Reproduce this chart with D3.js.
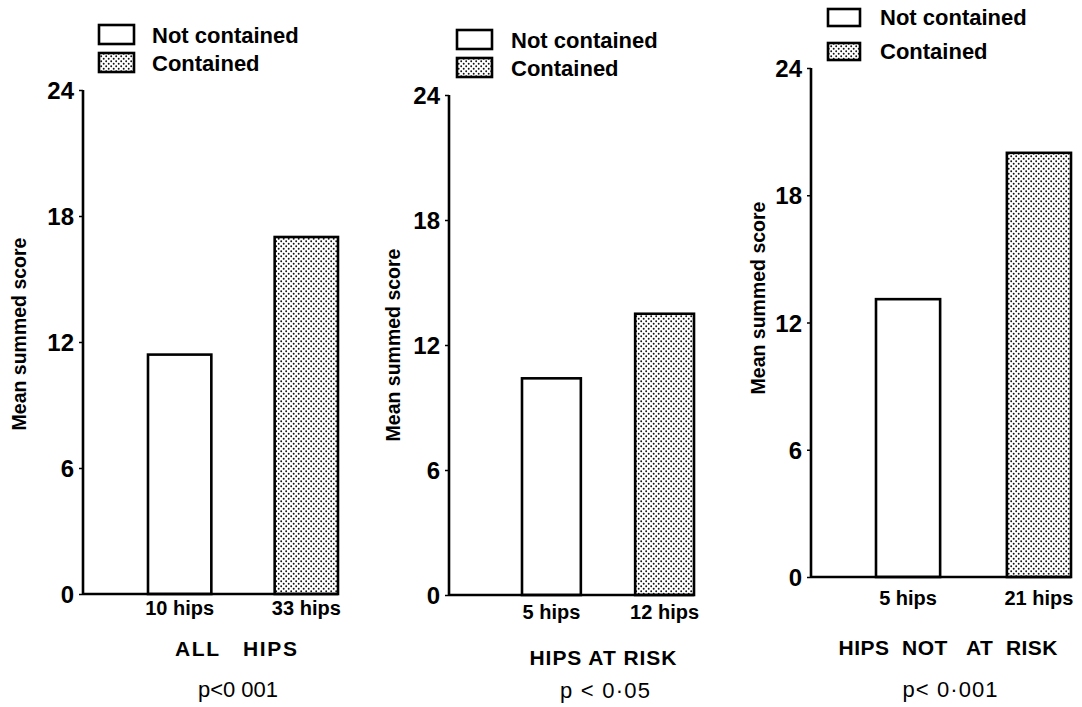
<!DOCTYPE html>
<html>
<head>
<meta charset="utf-8">
<script src="https://cdn.jsdelivr.net/npm/d3@7"></script>
<style>
  html, body { margin: 0; padding: 0; background: #fff; }
  svg { display: block; }
  text { font-family: "Liberation Sans", Arial, sans-serif; fill: #000; }
</style>
</head>
<body>
<script>
// ---------- data ----------
const seriesNames = ["Not contained", "Contained"];
const panelTitles = ["ALL   HIPS", "HIPS AT RISK", "HIPS  NOT   AT  RISK"];
const pValues = ["p<0 001", "p < 0·05", "p< 0·001"];
const hipLabels = [["10 hips", "33 hips"], ["5 hips", "12 hips"], ["5 hips", "21 hips"]];
const notContainedValues = [11.4, 10.4, 13.1];
const containedValues = [17.0, 13.5, 20.0];
const yTicks = [0, 6, 12, 18, 24];
const yLabel = "Mean summed score";

// ---------- layout (positions only) ----------
const layouts = [
  { axisX: 83, y0: 594, y24: 90, bar0: 148, bar1: 338, padIn: 0.50,
    legX: 99, legY: [25, 53], legW: 35, legH: 19, legTextX: 152,
    ylabX: 19, ylabY: 334, hipY: 615, titleY: 656, pY: 697,
    titleX: 236, titleW: 122, pW: 80 },
  { axisX: 449, y0: 595, y24: 95, bar0: 522, bar1: 694, padIn: 0.48,
    legX: 457, legY: [30, 58], legW: 35, legH: 19, legTextX: 511,
    ylabX: 393, ylabY: 345, hipY: 619, titleY: 665, pY: 698,
    titleX: 603, titleW: 147, pW: 90 },
  { axisX: 811, y0: 577, y24: 68, bar0: 876, bar1: 1071, padIn: 0.51,
    legX: 828, legY: [9, 43], legW: 32, legH: 17, legTextX: 880,
    ylabX: 758, ylabY: 298, hipY: 605, titleY: 655, pY: 697,
    titleX: 948, titleW: 219, pW: 95 }
];

const W = 1082, H = 707;
const svg = d3.select("body").append("svg").attr("width", W).attr("height", H);

// stipple pattern
const defs = svg.append("defs");
const pat = defs.append("pattern").attr("id", "dots")
  .attr("patternUnits", "userSpaceOnUse").attr("width", 5).attr("height", 5);
pat.append("rect").attr("width", 5).attr("height", 5).attr("fill", "#fff");
pat.append("circle").attr("cx", 1.2).attr("cy", 1.2).attr("r", 0.95).attr("fill", "#111");
pat.append("circle").attr("cx", 3.7).attr("cy", 3.7).attr("r", 0.95).attr("fill", "#111");

const fills = ["#fff", "url(#dots)"];

layouts.forEach((L, i) => {
  const g = svg.append("g");
  const y = d3.scaleLinear().domain([0, 24]).range([L.y0, L.y24]);
  const x = d3.scaleBand().domain(seriesNames).range([L.bar0, L.bar1])
    .paddingInner(L.padIn).paddingOuter(0);
  const vals = [notContainedValues[i], containedValues[i]];

  // bars
  g.selectAll("rect.bar").data(seriesNames).join("rect")
    .attr("class", "bar")
    .attr("x", d => x(d))
    .attr("y", (d, j) => y(vals[j]))
    .attr("width", x.bandwidth())
    .attr("height", (d, j) => y(0) - y(vals[j]))
    .attr("fill", (d, j) => fills[j])
    .attr("stroke", "#000").attr("stroke-width", 2.6);

  // y axis
  const ax = g.append("g").attr("transform", `translate(${L.axisX},0)`)
    .call(d3.axisLeft(y).tickValues(yTicks).tickSize(4).tickPadding(5).tickFormat(d3.format("d")));
  ax.select(".domain").attr("stroke", "#000").attr("stroke-width", 2.6)
    .attr("d", `M0,${y(24)}V${y(0)}`);
  ax.selectAll(".tick line").attr("stroke", "#000").attr("stroke-width", 1.5);
  ax.selectAll(".tick text").attr("font-size", 24).attr("font-weight", "bold")
    .attr("font-family", "Liberation Sans, Arial, sans-serif").attr("fill", "#000")
    .attr("dy", "0.36em");

  // x baseline
  g.append("line").attr("x1", L.axisX).attr("x2", L.bar1)
    .attr("y1", y(0)).attr("y2", y(0))
    .attr("stroke", "#000").attr("stroke-width", 2.6);

  // hip labels
  g.selectAll("text.hip").data(seriesNames).join("text")
    .attr("class", "hip")
    .attr("x", d => x(d) + x.bandwidth() / 2)
    .attr("y", L.hipY)
    .attr("text-anchor", "middle")
    .attr("font-size", 20).attr("font-weight", "bold")
    .text((d, j) => hipLabels[i][j]);

  g.append("text").attr("x", L.titleX).attr("y", L.titleY)
    .attr("text-anchor", "middle").attr("font-size", 21).attr("font-weight", "bold")
    .attr("textLength", L.titleW).attr("lengthAdjust", "spacing")
    .attr("style", "white-space:pre")
    .text(panelTitles[i]);
  g.append("text").attr("x", L.titleX + 2).attr("y", L.pY)
    .attr("text-anchor", "middle").attr("font-size", 22)
    .attr("textLength", L.pW).attr("lengthAdjust", "spacing")
    .attr("style", "white-space:pre")
    .text(pValues[i]);

  // y label
  g.append("text")
    .attr("transform", `translate(${L.ylabX + 7},${L.ylabY}) rotate(-90)`)
    .attr("text-anchor", "middle").attr("font-size", 19.5).attr("font-weight", "bold")
    .text(yLabel);

  // legend
  seriesNames.forEach((s, j) => {
    g.append("rect").attr("x", L.legX).attr("y", L.legY[j])
      .attr("width", L.legW).attr("height", L.legH)
      .attr("fill", fills[j]).attr("stroke", "#000").attr("stroke-width", 2.6);
    g.append("text").attr("x", L.legTextX).attr("y", L.legY[j] + L.legH - 1)
      .attr("font-size", 22).attr("font-weight", "bold")
      .text(s);
  });
});
</script>
</body>
</html>
